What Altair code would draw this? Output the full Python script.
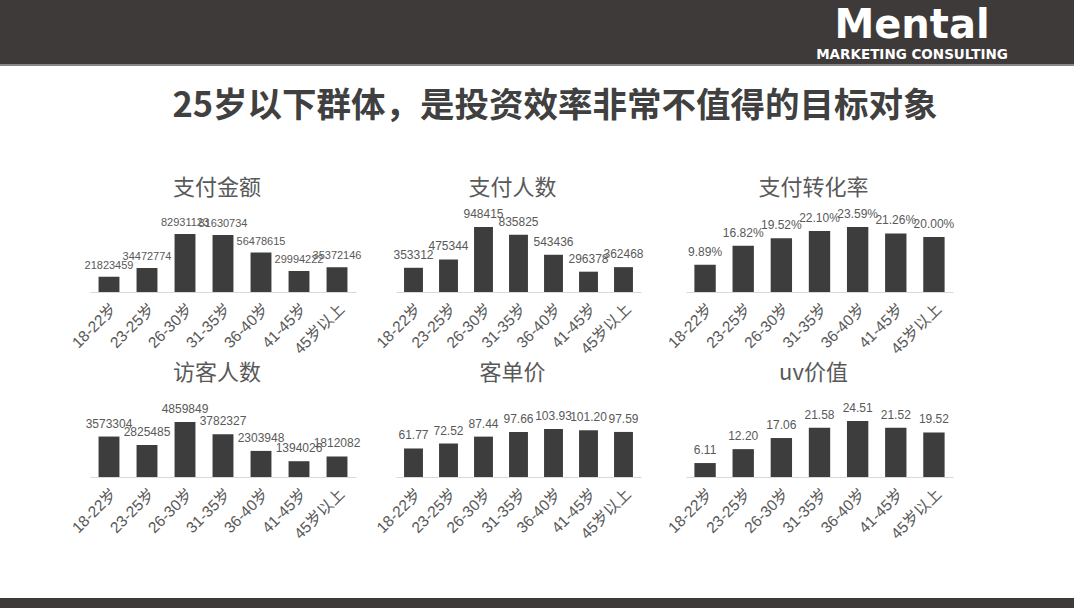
import altair as alt
import pandas as pd

# ---------------- data ----------------
ages = ["18-22岁", "23-25岁", "26-30岁", "31-35岁", "36-40岁", "41-45岁", "45岁以上"]
pay_amount = [21823459, 34472774, 82931123, 81630734, 56478615, 29994222, 35372146]
payers = [353312, 475344, 948415, 835825, 543436, 296378, 362468]
conv_rate = [9.89, 16.82, 19.52, 22.10, 23.59, 21.26, 20.00]
visitors = [3573304, 2825485, 4859849, 3782327, 2303948, 1394026, 1812082]
aov = [61.77, 72.52, 87.44, 97.66, 103.93, 101.20, 97.59]
uv_value = [6.11, 12.20, 17.06, 21.58, 24.51, 21.52, 19.52]

panel_titles = ["支付金额", "支付人数", "支付转化率", "访客人数", "客单价", "uv价值"]
main_title = "25岁以下群体，是投资效率非常不值得的目标对象"

# ---------------- style ----------------
DARK = "#3e3a39"
BAR = "#3d3d3d"
GREY = "#595959"
CJK = "Noto Sans CJK SC"
LATIN = "Liberation Sans, Noto Sans CJK SC"
ROW_H = 90


def spacer(w, h):
    return (
        alt.Chart(pd.DataFrame({"s": [0]}))
        .mark_rect(opacity=0)
        .encode(x=alt.value(0), x2=alt.value(w), y=alt.value(0), y2=alt.value(h))
        .properties(width=w, height=h)
    )


def panel(title, values, labels, width, ymax, pad, label_size):
    df = pd.DataFrame({"age": ages, "value": values, "label": labels})
    base = alt.Chart(df).encode(
        x=alt.X(
            "age:N",
            sort=ages,
            scale=alt.Scale(paddingInner=pad, paddingOuter=pad / 2),
            axis=alt.Axis(
                title=None,
                labelAngle=-45,
                labelAlign="right",
                labelBaseline="top",
                labelFont=LATIN,
                labelFontSize=15.5,
                labelColor=GREY,
                labelPadding=9,
                ticks=False,
                domainColor="#d9d9d9",
                domainWidth=1,
                grid=False,
            ),
        ),
        y=alt.Y("value:Q", scale=alt.Scale(domain=[0, ymax]), axis=None),
    )
    bars = base.mark_bar(color=BAR)
    text = base.mark_text(
        baseline="bottom", dy=-6, font=LATIN, fontSize=label_size, color=GREY
    ).encode(text="label:N")
    return alt.layer(bars, text).properties(
        width=width,
        height=ROW_H,
        title=alt.TitleParams(
            title,
            font=CJK,
            fontSize=22,
            fontWeight="normal",
            color=GREY,
            dx=-6,
            offset=2,
        ),
    )


def ints(vals):
    return [f"{v:d}" for v in vals]


def dec(vals, suffix=""):
    return [f"{v:.2f}{suffix}" for v in vals]


p1 = panel(panel_titles[0], pay_amount, ints(pay_amount), 266, 128.7e6, 0.45, 11)
p2 = panel(panel_titles[1], payers, ints(payers), 245, 1.313e6, 0.46, 12)
p3 = panel(panel_titles[2], conv_rate, dec(conv_rate, "%"), 267, 32.66, 0.44, 12)
p4 = panel(panel_titles[3], visitors, ints(visitors), 266, 7.95e6, 0.45, 12)
p5 = panel(panel_titles[4], aov, dec(aov), 245, 194.9, 0.46, 12)
p6 = panel(panel_titles[5], uv_value, dec(uv_value), 267, 39.4, 0.44, 12)

row1 = alt.hconcat(
    spacer(90, ROW_H), p1, spacer(39.5, ROW_H), p2, spacer(44.5, ROW_H), p3,
    spacing=0, bounds="flush",
)
row2 = alt.hconcat(
    spacer(90, ROW_H), p4, spacer(39.5, ROW_H), p5, spacer(44.5, ROW_H), p6,
    spacing=0, bounds="flush",
)

one = pd.DataFrame({"s": [0]})

header = alt.layer(
    alt.Chart(one).mark_rect(color=DARK).encode(
        x=alt.value(0), x2=alt.value(1074), y=alt.value(0), y2=alt.value(66)
    ),
    alt.Chart(one).mark_rect(color="#8a8684").encode(
        x=alt.value(0), x2=alt.value(1074), y=alt.value(64), y2=alt.value(66)
    ),
    alt.Chart(one).mark_text(
        text="Mental", font="DejaVu Sans", fontWeight="bold", fontSize=40,
        color="white", align="center", baseline="middle",
    ).encode(x=alt.value(912), y=alt.value(26)),
    alt.Chart(one).mark_text(
        text="MARKETING CONSULTING", font="DejaVu Sans", fontWeight="bold",
        fontSize=13.5, color="white", align="center", baseline="middle",
    ).encode(x=alt.value(912), y=alt.value(55)),
).properties(width=1074, height=66)

title_bar = (
    alt.Chart(one)
    .mark_text(
        text=main_title, font=CJK, fontWeight="bold", fontSize=34.5,
        color="#404040", align="center", baseline="middle",
    )
    .encode(x=alt.value(555), y=alt.value(41))
    .properties(width=1074, height=136)
)

footer = (
    alt.Chart(one)
    .mark_rect(color=DARK)
    .encode(x=alt.value(0), x2=alt.value(1074), y=alt.value(0), y2=alt.value(10))
    .properties(width=1074, height=10)
)

# nested flush rows contribute no height of their own, so the spacers
# below each row include the row's own height
chart = (
    alt.vconcat(
        header, title_bar, row1, spacer(1074, ROW_H + 95), row2,
        spacer(1074, ROW_H + 121), footer,
        spacing=0, bounds="flush",
    )
    .properties(padding=0, background="white")
    .configure_view(stroke=None)
)

chart.save("out.html", embed_options={"renderer": "svg", "actions": False})
